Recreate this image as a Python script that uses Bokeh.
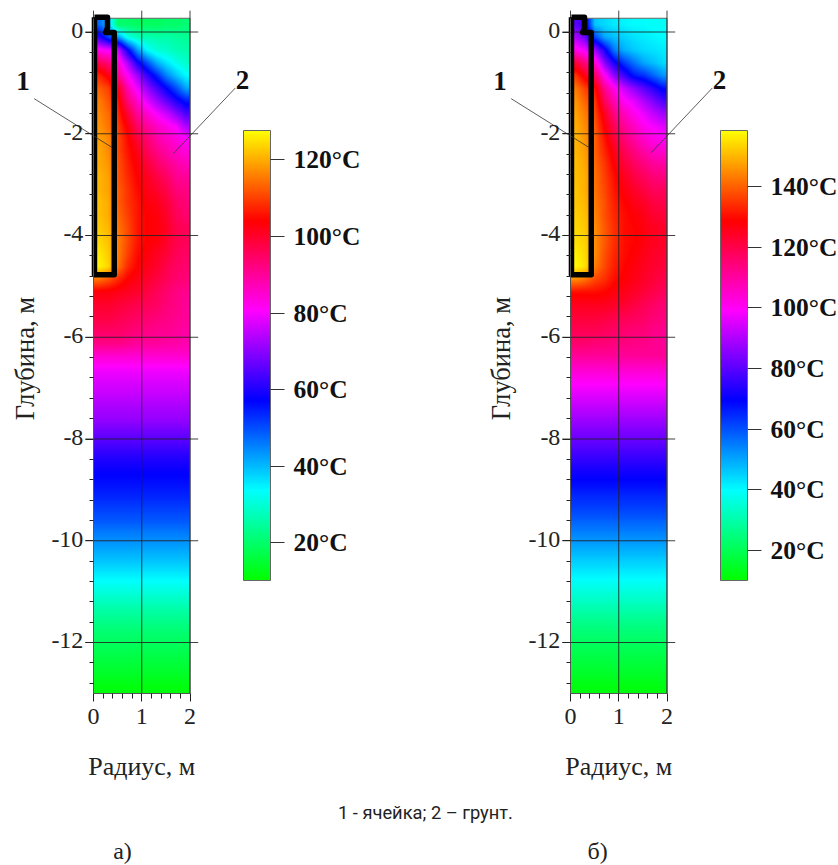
import numpy as np
from bokeh.plotting import figure
from bokeh.embed import file_html
from bokeh.resources import INLINE
from bokeh.core.properties import value
from bokeh.models import (Range1d, LinearAxis, FixedTicker, PrintfTickFormatter,
                          LinearColorMapper, ColorBar)

radius_ticks = [0, 1, 2]
radius_labels = ["0", "1", "2"]
radius_minor = [0.2, 0.4, 0.6, 0.8, 1.2, 1.4, 1.6, 1.8]
depth_ticks = [0, -2, -4, -6, -8, -10, -12]
depth_labels = ["0", "-2", "-4", "-6", "-8", "-10", "-12"]
depth_minor = [-0.4, -0.8, -1.2, -1.6, -2.4, -2.8, -3.2, -3.6, -4.4, -4.8, -5.2, -5.6,
               -6.4, -6.8, -7.2, -7.6, -8.4, -8.8, -9.2, -9.6, -10.4, -10.8, -11.2, -11.6,
               -12.4, -12.8]
cell_r = [0.02, 0.29, 0.29, 0.25, 0.43, 0.43, 0.02, 0.02]
cell_z = [0.29, 0.29, 0.08, -0.01, -0.01, -4.77, -4.77, 0.29]
leader1_r = [-1.23, 0.385]
leader1_z = [-1.31, -2.27]
leader2_r = [2.94, 1.665]
leader2_z = [-1.10, -2.38]

stop_colors = [(0, 255, 0), (0, 255, 255), (0, 0, 255), (255, 0, 255), (255, 0, 0), (255, 255, 0)]
range_a = (10.2, 127.7)
range_b = (10.1, 158.4)
bar_ticks_a = [20, 40, 60, 80, 100, 120]
bar_ticks_b = [20, 40, 60, 80, 100, 120, 140]

# temperature, rows from the top (+0.27 m) down, columns r = 0.1 ... 1.9 m
upper_a = [
 [48, 40, 20, 20, 19, 19, 19, 20, 20, 21],
 [62, 52, 44, 32, 28, 27, 26, 26, 25, 24],
 [82, 80, 76, 58, 43, 34, 30, 29, 27, 26],
 [97, 93, 85, 73, 59, 50, 41, 36, 32, 29],
 [108, 103, 91, 81, 72, 62, 54, 45, 39, 34],
 [113, 110, 102, 88, 79, 71, 64, 57, 50, 42],
 [116, 112, 106, 93, 85, 78, 72, 66, 60, 55],
 [117, 114, 108, 99, 90, 85, 80, 76, 70, 64],
 [118, 115, 110, 103, 95, 90, 86, 83, 80, 73],
 [119, 117, 111, 105, 99, 94, 89, 86, 84, 81],
 [120, 117, 111, 106, 102, 96, 92, 89, 86, 84],
 [120, 118, 112, 107, 103, 99, 95, 92, 89, 87],
 [121, 119, 112, 108, 104, 101, 98, 95, 91, 90],
 [121, 119, 113, 109, 105, 102, 100, 97, 93, 92],
 [122, 120, 113, 109, 106, 103, 102, 99, 95, 93],
 [122, 120, 114, 110, 106, 104, 103, 100, 96, 94],
 [123, 121, 115, 111, 106, 104, 103, 101, 97, 96],
 [124, 122, 116, 111, 106, 104, 103, 100, 97, 96],
 [126, 123, 116, 110, 105, 103, 101, 99, 96, 95],
 [127, 124, 115, 108, 104, 102, 100, 97, 95, 94],
 [115, 112, 108, 104, 102, 100, 98, 96, 94, 93],
 [103, 103, 102, 101, 100, 98, 96, 94, 92, 91],
 [100, 100, 99, 98, 97, 96, 95, 93, 92, 90],
 [98, 98, 97, 96, 95, 94, 93, 92, 91, 90],
 [95, 95, 95, 94, 93, 92, 91, 91, 90, 89],
 [92, 92, 92, 91, 90, 90, 90, 89, 89, 88],
]
# below about -6.25 m the layers are level: one temperature per row
lower_a = [85, 80, 77.5, 75.5, 73, 71, 67.5, 64, 60.5, 58, 56, 54, 51.5, 49, 45.5, 42.5,
           39.5, 36, 32.5, 29, 25.5, 22.5, 20, 18, 16, 14, 11.5]

upper_b = [
 [80, 75, 46, 44, 42, 41, 40, 40, 39, 39],
 [90, 82, 62, 50, 47, 45, 43, 42, 41, 40],
 [102, 97, 88, 72, 55, 49, 46, 44, 43, 42],
 [122, 114, 105, 85, 72, 63, 56, 50, 47, 44],
 [135, 126, 118, 100, 86, 76, 67, 64, 58, 52],
 [143, 136, 130, 112, 101, 93, 86, 80, 74, 68],
 [146, 140, 135, 118, 107, 100, 96, 90, 84, 78],
 [148, 143, 137, 125, 113, 107, 101, 97, 92, 88],
 [149, 145, 139, 128, 118, 111, 106, 101, 98, 96],
 [150, 146, 140, 131, 122, 115, 110, 105, 102, 100],
 [150, 147, 140, 133, 126, 119, 114, 110, 106, 105],
 [151, 148, 141, 135, 128, 122, 118, 114, 111, 110],
 [151, 149, 142, 136, 130, 125, 121, 118, 115, 114],
 [152, 149, 142, 137, 131, 127, 124, 121, 118, 118],
 [152, 150, 143, 138, 132, 129, 126, 124, 121, 120],
 [153, 151, 144, 138, 133, 130, 128, 126, 123, 122],
 [154, 152, 145, 139, 134, 130, 129, 127, 125, 124],
 [155, 153, 145, 139, 134, 130, 129, 127, 125, 124],
 [157, 154, 145, 138, 133, 130, 128, 126, 124, 123],
 [158, 155, 143, 137, 132, 129, 127, 125, 123, 122],
 [145, 142, 137, 134, 130, 128, 126, 124, 122, 120],
 [130, 130, 130, 129, 127, 126, 124, 122, 120, 118],
 [125, 125, 125, 125, 124, 123, 121, 119, 117, 115],
 [122, 122, 122, 121, 120, 119, 118, 117, 115, 114],
 [119, 119, 119, 118, 117, 116, 115, 115, 113, 112],
 [116, 116, 115, 115, 114, 114, 113, 113, 112, 111],
]
lower_b = [111, 105, 100, 96, 92, 88, 84, 80, 76, 72, 68.5, 65, 62, 58, 54, 50, 46, 42, 38,
           34, 30, 26, 23, 20, 17.5, 15, 12]

SERIF = value("Liberation Serif")
INK = "#222222"
W, H = 838, 865
X0_A, X0_B, Y0 = 93, 570, 31.5
SX, SY = 48.25, 50.875


def make_palette(n=512):
    stops = np.array(stop_colors, dtype=float)
    pos = np.arange(len(stops)) / (len(stops) - 1)
    t = np.arange(n) / (n - 1)
    chans = [np.interp(t, pos, stops[:, i]) for i in range(3)]
    return ["#%02x%02x%02x" % (int(r), int(g), int(b)) for r, g, b in zip(*chans)]


def screen_resample(grid, out_w=97, out_h=675):
    """Display step only: the browser draws a Bokeh image with hard pixels, the reference
    has soft gradients, so the table read above is resampled to screen pixels."""
    h, w = grid.shape
    cx = (np.arange(w) + 0.5) / w
    cy = (np.arange(h) + 0.5) / h
    tx = (np.arange(out_w) + 0.5) / out_w
    ty = (np.arange(out_h) + 0.5) / out_h
    by_x = np.array([np.interp(tx, cx, row) for row in grid])
    return np.array([np.interp(ty, cy, col) for col in by_x.T]).T


PALETTE = make_palette()

p = figure(width=W, height=H, toolbar_location=None, output_backend="svg",
           x_axis_type=None, y_axis_type=None, min_border=0, outline_line_color=None,
           x_range=Range1d(-X0_A / SX, (W - X0_A) / SX),
           y_range=Range1d(Y0 / SY - H / SY, Y0 / SY))
p.extra_x_ranges["b"] = Range1d(-X0_B / SX, (W - X0_B) / SX)
p.xgrid.visible = False
p.ygrid.visible = False


def panel(name, upper, lower, rng, bar_ticks, bar_x, letter, letter_r, ylab_r):
    kw = dict(x_range_name=name)
    mapper = LinearColorMapper(palette=PALETTE, low=rng[0], high=rng[1])
    rows = [list(r) for r in upper] + [[v] * 10 for v in lower]
    grid = np.array(rows, dtype=float)[::-1]
    p.image(image=[screen_resample(grid)], x=0, y=-13, dw=2, dh=13.27, color_mapper=mapper, **kw)

    # frame of the field, grid lines that run past it
    p.line([0, 2, 2], [0.27, 0.27, -13], line_color="#666666", line_width=1, **kw)
    p.segment(x0=radius_ticks, x1=radius_ticks, y0=[-13] * 3, y1=[0.42] * 3,
              line_color=INK, line_width=1, line_alpha=0.85, **kw)
    p.segment(x0=[-0.17] * len(depth_ticks), x1=[2.17] * len(depth_ticks),
              y0=depth_ticks, y1=depth_ticks, line_color=INK, line_width=1, line_alpha=0.85, **kw)

    # heat cell outline
    p.line(cell_r, cell_z, line_color="black", line_width=5.5, line_join="round", **kw)

    # leaders
    p.line(leader1_r, leader1_z, line_color="#333333", line_width=0.8, **kw)
    p.line(leader2_r, leader2_z, line_color="#333333", line_width=0.8, **kw)
    p.text([-1.46], [-0.97], text=["1"], text_font=SERIF, text_font_style="bold",
           text_font_size="27px", text_align="center", text_baseline="middle",
           text_color="#111111", **kw)
    p.text([3.09], [-0.94], text=["2"], text_font=SERIF, text_font_style="bold",
           text_font_size="27px", text_align="center", text_baseline="middle",
           text_color="#111111", **kw)

    # axis titles
    p.text([1], [-14.44], text=["Радиус, м"], text_font=SERIF, text_font_size="26px",
           text_align="center", text_baseline="middle", text_color=INK, **kw)
    p.text([ylab_r], [-6.42], text=["Глубина, м"], text_font=SERIF, text_font_size="26.5px",
           text_align="center", text_baseline="middle", angle=np.pi / 2, text_color=INK, **kw)
    p.text([letter_r], [-16.1], text=[letter], text_font=SERIF, text_font_size="24px",
           text_align="center", text_baseline="middle", text_color=INK, **kw)

    # tick labels
    p.text(radius_ticks, [-13.45] * 3, text=radius_labels, text_font=SERIF, text_font_size="24px",
           text_align="center", text_baseline="middle", text_color=INK, **kw)
    p.text([-0.21] * len(depth_ticks), [t + 0.03 for t in depth_ticks], text=depth_labels,
           text_font=SERIF, text_font_size="24px", text_align="right", text_baseline="middle",
           text_color=INK, **kw)

    # axes
    xa = LinearAxis(x_range_name=name, fixed_location=-13, bounds=(0, 2),
                    ticker=FixedTicker(ticks=radius_ticks, minor_ticks=radius_minor))
    ya = LinearAxis(x_range_name=name, fixed_location=0, bounds=(-13, 0.27),
                    ticker=FixedTicker(ticks=depth_ticks, minor_ticks=depth_minor))
    for ax in (xa, ya):
        ax.major_label_text_color = None
        ax.axis_line_color = "#555555"
        ax.major_tick_line_color = INK
        ax.minor_tick_line_color = INK
        ax.major_tick_in = 0
        ax.minor_tick_in = 0
        ax.major_tick_out = 8
    xa.minor_tick_out = 5
    ya.minor_tick_out = 4
    p.add_layout(xa, "below")
    p.add_layout(ya, "left")

    # colour scale
    cb = ColorBar(color_mapper=mapper, ticker=FixedTicker(ticks=bar_ticks),
                  formatter=PrintfTickFormatter(format="%d°C"),
                  location=(bar_x, H - 580), width=27, height=450, padding=0, margin=0,
                  major_tick_in=0, major_tick_out=14, major_tick_line_color="#333333",
                  major_tick_line_width=1, minor_tick_line_color=None,
                  bar_line_color="#666666", bar_line_width=1, border_line_color=None,
                  background_fill_alpha=0, label_standoff=9,
                  major_label_text_font="Liberation Serif", major_label_text_font_style="bold",
                  major_label_text_font_size="25.5px", major_label_text_color="#111111")
    p.add_layout(cb)


panel("default", upper_a, lower_a, range_a, bar_ticks_a, 243, "а)", 0.6, -1.43)
panel("b", upper_b, lower_b, range_b, bar_ticks_b, 720, "б)", 0.56, -1.45)

p.text([6.88], [-15.34], text=["1 - ячейка; 2 – грунт."], text_font=value("Roboto"),
       text_font_size="18.3px", text_align="center", text_baseline="middle", text_color="#222222")

open("out.html", "w").write(file_html(p, INLINE))
